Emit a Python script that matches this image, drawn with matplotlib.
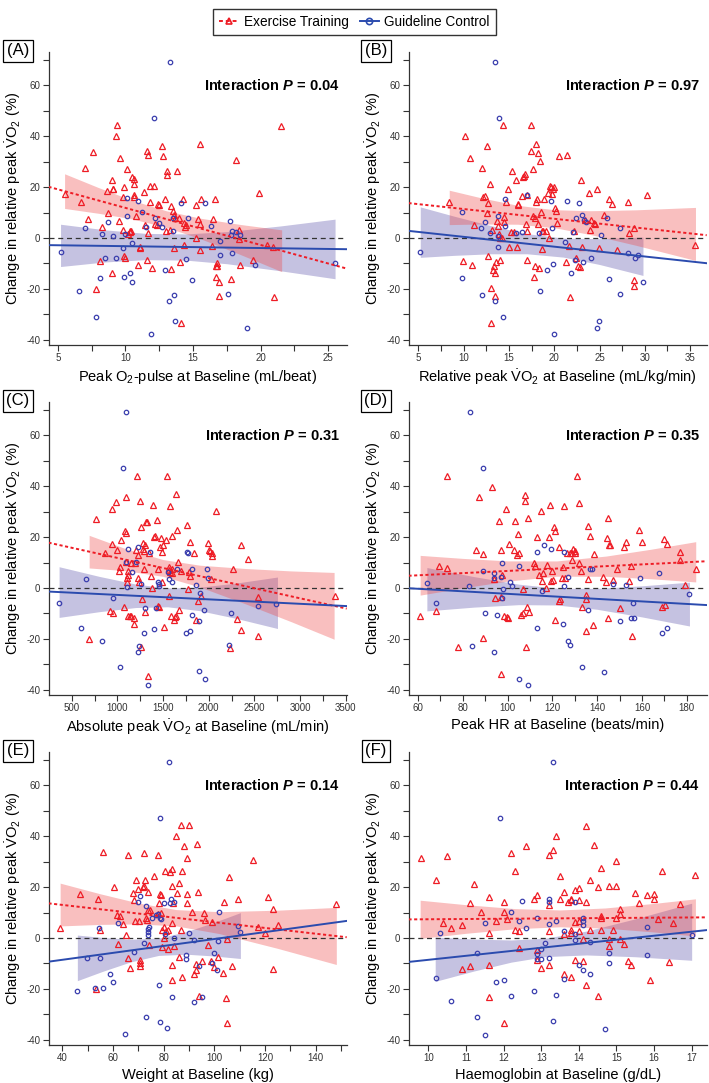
import matplotlib
matplotlib.use("Agg")
import matplotlib.pyplot as plt
from matplotlib.lines import Line2D
from matplotlib.ticker import FixedLocator, FuncFormatter

plt.rcParams['font.family'] = ['Liberation Sans', 'DejaVu Sans']
plt.rcParams['mathtext.fontset'] = 'custom'
plt.rcParams['mathtext.rm'] = 'Liberation Sans'
plt.rcParams['mathtext.it'] = 'Liberation Sans:italic'
plt.rcParams['mathtext.bf'] = 'Liberation Sans:bold'
plt.rcParams['mathtext.bfit'] = 'Liberation Sans:italic:bold'
plt.rcParams['axes.unicode_minus'] = False

# ---------------- data ----------------
# (A) peak O2-pulse
a_ex_x = [5.5, 6.7, 7.0, 7.2, 7.6, 7.8, 8.1, 8.3, 8.6, 8.7,
          9.0, 9.0, 9.1, 9.1, 9.3, 9.4, 9.5, 9.6, 9.8, 9.9,
          9.85, 9.9, 10.0, 10.1, 10.2, 10.3, 10.3, 10.4, 10.5, 10.6,
          10.6, 10.6, 10.6, 10.8, 10.9, 11.05, 11.1, 11.4, 11.45, 11.6,
          11.6, 11.7, 11.7, 11.8, 11.8, 12.0, 12.1, 12.2, 12.3, 12.4,
          12.5, 12.7, 12.8, 12.9, 13.0, 13.1, 13.1, 13.3, 13.4, 13.4,
          13.5, 13.6, 13.6, 13.7, 13.8, 13.95, 14.05, 14.1, 14.25, 14.3,
          14.35, 14.4, 14.5, 15.2, 15.2, 15.4, 15.5, 15.5, 15.5, 15.6,
          16.4, 16.5, 16.6, 16.7, 16.7, 16.8, 16.8, 16.9, 16.9, 17.8,
          18.2, 18.4, 18.4, 18.5, 19.4, 19.9, 20.45, 20.9, 21.0, 21.5]
a_ex_y = [17.4, 14.2, 27.5, 7.6, 33.6, -19.9, -8.9, 4.3, 18.5, 10.0,
          -13.9, 22.8, 19.3, 19.1, 40.0, 44.5, 6.5, 31.3, 3.2, 20.1,
          16.1, -7.1, -7.7, 27.2, 1.6, 2.8, 2.3, 2.7, 24.1, 23.0,
          21.1, 16.7, 15.9, 8.7, -10.6, -3.5, -4.1, 18.1, 5.2, -8.5,
          34.1, 1.9, 32.7, 14.2, 20.4, -11.8, 20.6, 5.4, 5.2, 13.5,
          13.0, 36.1, 32.2, 15.2, 2.8, 26.2, 24.6, 3.1, 12.7, -12.2,
          10.5, 9.1, -3.8, 7.8, 26.2, 7.9, -9.5, -33.5, 15.2, 6.0,
          -2.7, 4.5, 5.0, 13.1, -0.1, 7.4, 36.9, 5.4, -4.8, 15.2,
          -3.0, 7.4, 15.5, -10.9, -15.5, -9.8, -11.1, -17.3, -22.9, -16.2,
          30.5, 3.2, -0.2, -10.6, -8.8, 17.8, -2.9, -3.7, -23.3, 44.1]
a_gc_x = [5.2, 6.6, 7.0, 7.85, 8.1, 8.3, 8.5, 8.7, 9.1, 9.3,
          9.8, 9.9, 10.0, 10.1, 10.1, 10.3, 10.5, 10.5, 10.9, 11.25,
          11.5, 11.9, 12.1, 12.2, 12.5, 12.7, 12.9, 13.2, 13.5, 13.5,
          13.6, 13.65, 14.1, 14.5, 14.6, 14.9, 15.9, 16.3, 17.0, 17.0,
          17.6, 17.7, 17.8, 17.9, 17.9, 18.2, 18.5, 19.0, 19.6, 25.5, 13.3]
a_gc_y = [-5.5, -20.7, 3.9, -30.9, -15.7, 1.6, -7.9, 6.1, 0.7, -7.9,
          -3.8, -15.5, 1.6, 15.6, 8.7, -13.7, -2.0, -17.2, 14.4, 10.3,
          4.4, -37.7, 47.1, 7.9, 6.0, 4.3, -12.6, -24.7, 7.7, 2.7,
          -22.5, -32.7, 13.8, -8.4, 7.7, -16.5, 13.8, 4.6, -1.3, -6.6,
          -22.1, 6.6, 1.3, 2.6, -5.8, 2.2, 1.3, -35.4, -10.5, -9.7, 69.0]
a_xlim = [4.31, 26.36]
a_ex_line = [20.1, -12.0]
a_gc_line = [-2.8, -4.4]
a_ex_band_x = [5.5, 8, 10.5, 13, 15.5, 18.5, 21.55]
a_ex_band_lo = [11.6, 9.7, 7.5, 4.2, -0.2, -6.5, -13.2]
a_ex_band_hi = [25.2, 19.8, 14.8, 10.7, 7.8, 5.3, 3.2]
a_gc_band_x = [5.2, 8.5, 11.5, 14.5, 17.5, 21.5, 25.5]
a_gc_band_lo = [-11.2, -9.4, -8.5, -8.7, -10.1, -12.9, -16.0]
a_gc_band_hi = [5.4, 3.2, 1.8, 1.6, 2.5, 4.75, 7.4]

# (B) relative peak VO2
b_ex_x = [8.4, 9.9, 10.15, 10.7, 10.9, 11.1, 12.0, 12.1, 12.4, 12.55,
          12.6, 12.7, 12.7, 12.9, 13.0, 13.0, 13.1, 13.2, 13.3, 13.4,
          13.5, 13.6, 13.7, 13.8, 13.9, 14.0, 14.05, 14.2, 14.35, 14.5,
          14.5, 14.7, 14.9, 15.0, 15.2, 15.3, 15.5, 15.8, 15.9, 16.0,
          16.0, 16.4, 16.6, 16.7, 16.8, 16.85, 16.96, 17.0, 17.0, 17.4,
          17.4, 17.6, 17.7, 17.8, 17.9, 17.9, 18.0, 18.0, 18.1, 18.2,
          18.25, 18.3, 18.4, 18.5, 18.6, 18.65, 18.8, 18.9, 19.1, 19.3,
          19.4, 19.5, 19.65, 19.8, 19.9, 20.0, 20.1, 20.2, 20.3, 20.5,
          21.3, 21.4, 21.6, 21.7, 22.2, 22.4, 22.6, 22.8, 23.0, 23.1,
          23.4, 23.8, 24.0, 24.1, 24.4, 24.5, 24.7, 24.95, 25.5, 26.05,
          26.4, 26.9, 28.2, 28.3, 28.8, 28.85, 28.85, 30.3, 35.6]
b_ex_y = [14.2, -8.9, 40.0, 31.3, -10.6, 5.2, 27.6, 15.9, 16.3, 10.0,
          36.1, 13.7, -7.0, 21.3, -19.8, -33.5, 3.0, -12.5, -10.9, -13.9,
          -22.9, -9.6, 6.5, 4.8, 1.5, -8.8, 0.1, -0.1, 44.3, 6.3,
          8.3, 14.3, 19.4, -3.4, 2.2, 26.3, 2.4, 22.8, -3.7, 13.3,
          13.0, 16.5, 24.1, 24.4, 25.3, 5.6, 16.9, -8.7, 2.7, 44.2,
          34.2, 27.2, 8.7, -15.3, -10.9, 7.8, 14.2, 36.9, 15.2, 33.4,
          5.4, -11.9, 30.4, 10.3, 2.8, -4.5, 2.8, 15.2, 2.6, 17.8,
          0.1, 20.4, 20.0, 17.2, 19.4, 20.0, 11.6, 10.7, 5.9, 32.2,
          -9.3, 32.6, -3.1, -23.1, 2.7, -7.7, -10.9, -11.5, 22.8, -3.4,
          6.9, 17.8, 3.0, 7.0, 5.8, 5.5, 19.1, -3.8, 9.0, 15.5,
          13.2, -4.8, 14.3, 1.8, 4.0, -16.4, -18.7, 16.9, -2.9]
b_gc_x = [5.2, 9.8, 9.8, 11.9, 12.0, 12.4, 12.95, 13.4, 13.8, 13.8,
          13.8, 13.9, 14.3, 14.6, 14.6, 15.8, 16.4, 17.0, 18.3, 18.4,
          19.2, 19.65, 19.7, 19.9, 20.0, 21.2, 21.4, 21.8, 22.1, 22.3,
          22.4, 22.7, 23.1, 23.2, 23.3, 23.55, 24.1, 24.7, 24.9, 25.2,
          25.8, 26.1, 27.3, 27.3, 28.1, 28.9, 29.2, 29.8, 13.5]
b_gc_y = [-5.5, 10.3, -15.7, 4.0, -22.5, 6.2, 2.0, -24.7, 8.8, 0.9,
          -3.7, 47.2, -30.9, 15.5, 4.8, 1.8, 2.4, 16.8, 2.0, -20.7,
          -12.6, 14.4, 4.1, -10.4, -37.7, -1.5, 14.4, -13.7, 2.3, -8.5,
          7.9, 13.9, 9.0, -9.6, 7.0, 6.1, -7.9, -35.3, -32.7, 1.1,
          7.8, -15.9, -22.0, 4.0, -5.8, -7.9, -6.7, -17.2, 69.0]
b_xlim = [3.9, 36.84]
b_ex_line = [13.7, 1.1]
b_gc_line = [2.8, -9.9]
b_ex_band_x = [8.4, 12, 16, 20, 24, 29, 35.6]
b_ex_band_lo = [5.25, 5.5, 5.4, 4.05, 1.35, -2.85, -8.8]
b_ex_band_hi = [18.75, 15.7, 12.8, 11.1, 10.7, 11.05, 12.0]
b_gc_band_x = [5.2, 9, 13, 17, 21, 25, 29.8]
b_gc_band_lo = [-7.6, -6.8, -6.2, -6.2, -7.5, -10.4, -14.7]
b_gc_band_hi = [12.2, 8.5, 4.85, 1.7, -0.05, -0.27, 0.37]

# (C) absolute peak VO2
c_ex_x = [690, 763, 865, 920, 938, 938, 953, 989, 1000, 1015,
          1026, 1040, 1069, 1084, 1091, 1091, 1099, 1106, 1106, 1113,
          1113, 1113, 1135, 1146, 1150, 1183, 1186, 1194, 1204, 1212,
          1223, 1230, 1237, 1248, 1256, 1256, 1267, 1277, 1281, 1288,
          1296, 1303, 1303, 1310, 1325, 1332, 1347, 1369, 1383, 1387,
          1398, 1413, 1434, 1442, 1449, 1456, 1471, 1478, 1486, 1493,
          1500, 1515, 1529, 1544, 1559, 1566, 1566, 1573, 1577, 1584,
          1595, 1595, 1602, 1617, 1632, 1639, 1642, 1653, 1661, 1675,
          1697, 1756, 1767, 1778, 1792, 1799, 1836, 1865, 1880, 1916,
          1986, 1997, 2011, 2026, 2040, 2040, 2084, 2237, 2270, 2310,
          2354, 2354, 2424, 2544, 2544, 3380]
c_ex_y = [-20.1, 27.2, 13.9, -9.0, 31.1, 17.4, -9.9, 33.6, 14.9, 6.7,
          8.1, 19.0, -7.3, 22.5, 21.4, 10.1, 35.6, 2.2, 3.8, 5.1,
          6.7, -11.1, -10.8, 9.7, -10.8, -11.6, -14.2, 9.9, 15.0, 44.1,
          3.8, 12.9, 2.2, 34.2, 23.8, -23.1, -4.2, 15.2, 17.5, 14.5,
          7.6, -9.5, 16.7, 26.0, 26.0, -34.6, 13.6, 4.7, -0.1, 32.5,
          19.9, 20.4, 26.7, -7.2, 7.3, -7.3, 16.2, 19.6, 14.1, 2.5,
          17.0, -15.2, 18.8, 44.1, 6.9, 8.1, -3.1, 6.3, 32.2, -10.8,
          5.8, 20.3, 7.5, -12.5, -11.2, -10.8, 36.7, 22.7, 10.2, -8.6,
          6.5, 24.6, -0.3, 6.1, 18.2, 4.8, 13.7, -12.5, -5.0, -3.3,
          17.8, 14.9, 14.5, 3.5, 13.9, 12.5, 30.3, -23.5, 7.3, -12.0,
          -16.6, 16.7, 11.2, -3.7, -18.7, -3.1]
c_gc_x = [361, 602, 661, 836, 953, 1033, 1058, 1091, 1099, 1106,
          1113, 1164, 1201, 1226, 1237, 1230, 1259, 1288, 1303, 1332,
          1361, 1405, 1420, 1445, 1456, 1456, 1551, 1559, 1595, 1657,
          1748, 1763, 1770, 1799, 1814, 1821, 1858, 1894, 1898, 1909,
          1945, 1960, 1975, 1989, 2223, 2248, 2544, 2741]
c_gc_y = [-5.8, -15.8, 3.7, -21.0, -3.9, -31.1, 46.9, 68.9, 10.2, 0.5,
          15.3, 6.3, 10.1, 15.9, -22.6, -25.1, 1.6, -17.6, -8.0, -37.9,
          14.1, -15.9, -8.0, 2.4, 0.8, 1.4, 6.3, 3.7, 2.4, 7.3,
          -17.5, 14.0, 13.6, -16.9, 7.5, -10.7, 1.0, -12.8, -32.4, -1.8,
          -8.6, -35.8, 7.6, 3.9, -22.4, -9.9, -6.9, -6.1]
c_xlim = [245, 3510]
c_ex_line = [17.8, -8.1]
c_gc_line = [-1.4, -7.1]
c_ex_band_x = [690, 1100, 1500, 1900, 2400, 2900, 3372]
c_ex_band_lo = [7.87, 6.75, 4.55, 0.41, -6.2, -13.2, -20.1]
c_ex_band_hi = [20.67, 15.3, 11.15, 8.95, 7.65, 6.7, 6.1]
c_gc_band_x = [361, 800, 1200, 1550, 1900, 2300, 2752]
c_gc_band_lo = [-11.55, -9.3, -7.67, -7.38, -8.9, -11.93, -15.9]
c_gc_band_hi = [8.35, 4.56, 1.53, 0.02, 0.3, 1.93, 4.3]

# (D) peak HR
d_ex_x = [61.0, 68.0, 69.5, 73.1, 73.1, 78.1, 86.0, 87.4, 89.0, 89.0,
          93.0, 93.8, 94.2, 96.1, 96.9, 97.0, 97.2, 97.5, 98.4, 99.1,
          99.9, 100.4, 100.7, 102.8, 103.4, 104.3, 104.8, 105.2, 106.1, 106.7,
          107.0, 107.9, 108.0, 108.2, 108.5, 109.1, 109.8, 111.9, 112.3, 113.1,
          114.1, 115.0, 115.3, 115.9, 117.0, 117.5, 118.7, 118.9, 119.3, 119.8,
          120.4, 120.7, 121.0, 121.1, 122.9, 123.0, 123.6, 124.2, 124.8, 125.1,
          125.7, 126.6, 127.8, 128.7, 129.0, 129.4, 130.0, 130.2, 130.8, 131.7,
          132.0, 132.9, 133.2, 134.9, 134.9, 135.2, 135.8, 136.1, 137.0, 138.2,
          138.8, 142.7, 143.9, 144.2, 144.8, 144.8, 145.4, 145.8, 147.0, 148.9,
          150.3, 152.2, 152.9, 154.0, 155.2, 155.5, 158.9, 159.9, 168.8, 170.0,
          170.3, 171.2, 177.0, 177.2, 179.3, 184.0]
d_ex_y = [-10.8, -8.9, 8.6, 7.7, 43.9, -23.1, 14.9, 35.8, 13.3, -19.7,
          39.7, 3.4, -4.1, 26.1, -33.9, 14.9, -3.4, 5.0, -11.0, 31.1,
          -11.5, -11.9, 17.1, 14.9, 26.1, 12.9, 21.2, 13.9, -10.7, -0.3,
          -9.9, 36.6, 34.2, -23.3, -7.3, 27.3, -9.3, 9.7, 8.5, 20.1,
          5.0, 30.1, 2.7, 5.9, 0.0, 9.0, 19.9, 32.5, 2.9, 6.7,
          3.1, 24.1, 22.5, -12.4, 15.9, -5.0, -4.3, 4.1, 8.4, 32.3,
          3.8, 13.9, 13.9, 13.7, 11.0, 15.3, 14.6, 13.6, 44.1, 33.5,
          9.8, 6.5, -7.3, -2.9, -4.2, -16.7, 3.7, 24.4, 20.4, -14.6,
          13.5, 4.4, 2.5, 19.7, -11.9, 27.3, 16.9, 16.9, 3.1, 7.3,
          -8.0, 15.9, 17.9, 2.7, 8.5, -18.8, 22.7, 17.9, -7.3, 19.1,
          -6.7, 17.3, 14.0, 11.0, 1.2, 7.6]
d_gc_x = [64.0, 68.0, 82.9, 84.1, 89.1, 90.0, 93.9, 93.9, 94.1, 95.1,
          97.0, 97.6, 98.1, 100.9, 101.9, 104.9, 104.9, 109.2, 113.1, 113.1,
          115.2, 116.4, 119.2, 124.8, 125.1, 125.4, 126.9, 127.2, 128.1, 133.2,
          136.1, 137.0, 137.9, 143.0, 147.1, 150.1, 153.1, 155.2, 156.1, 156.4,
          159.2, 167.8, 169.1, 171.4, 181.2, 83.2, 89.1, 97.6]
d_gc_y = [2.0, -5.8, 0.9, -22.7, 6.8, -9.9, 5.9, 3.8, -25.1, -10.7,
          4.2, 9.9, -0.3, 2.2, 0.8, 8.5, -35.8, -37.9, 14.2, -15.8,
          -1.3, 16.7, 15.4, -14.1, 0.7, 14.2, -21.0, 4.2, -22.4, -31.2,
          -8.5, 7.6, 7.6, -32.8, 1.6, -12.8, 1.0, -11.6, -6.0, -11.6,
          4.1, 5.9, -17.5, -15.8, -2.4, 68.9, 46.9, -3.9]
d_xlim = [55.8, 188.9]
d_ex_line = [4.8, 10.5]
d_gc_line = [-0.1, -6.7]
d_ex_band_x = [61, 80, 100, 122, 144, 164, 184]
d_ex_band_lo = [-2.8, 0.02, 2.7, 4.62, 4.59, 3.63, 2.38]
d_ex_band_hi = [12.8, 11.62, 10.64, 10.62, 12.53, 15.21, 18.18]
d_gc_band_x = [64, 85, 105, 122, 140, 160, 181.2]
d_gc_band_lo = [-8.98, -7.51, -6.54, -6.67, -8.36, -11.35, -14.91]
d_gc_band_hi = [8.02, 4.47, 1.5, -0.07, -0.16, 0.85, 2.29]

# (E) weight
e_ex_x = [39.1, 47.0, 53.1, 54.0, 54.9, 56.0, 60.2, 61.5, 61.9, 62.8,
          64.1, 65.2, 66.0, 66.0, 66.8, 67.8, 68.1, 68.6, 68.9, 69.9,
          70.2, 70.5, 70.5, 70.7, 71.8, 72.1, 72.3, 72.8, 73.0, 73.4,
          73.8, 73.9, 74.2, 74.7, 76.0, 77.9, 77.9, 78.1, 78.5, 78.9,
          79.1, 79.4, 79.4, 80.0, 80.2, 80.5, 81.0, 81.6, 81.8, 82.3,
          83.1, 83.1, 83.1, 83.1, 83.1, 83.8, 84.2, 85.0, 85.3, 86.0,
          86.0, 86.7, 86.8, 87.1, 87.4, 88.0, 89.1, 89.2, 89.1, 90.0,
          91.3, 91.8, 92.6, 92.6, 93.2, 93.6, 94.0, 95.3, 95.8, 96.3,
          97.7, 98.7, 99.0, 100.0, 101.6, 103.5, 104.0, 104.5, 105.0, 105.2,
          105.8, 106.9, 109.5, 115.3, 117.2, 120.1, 121.1, 123.2, 123.2, 125.1,
          148.2]
e_ex_y = [3.9, 17.4, -20.0, 15.3, 3.1, 33.6, 19.9, 9.2, -2.5, 8.6,
          5.4, 1.3, -8.0, 32.7, -11.6, 17.8, 15.0, 6.5, 22.7, 19.1,
          6.8, -8.6, -11.0, -9.9, 20.0, 33.5, 20.4, 22.7, 7.8, 7.1,
          10.8, 18.0, -2.9, 11.0, 24.4, 32.4, 9.4, 13.9, 17.1, 16.7,
          9.9, 3.1, -3.4, 0.0, 4.4, 26.1, 2.7, -4.4, 3.1, 26.0,
          6.0, -10.7, -16.3, 20.5, 27.2, 13.9, -3.0, 40.1, 17.6, -7.3,
          21.4, 44.4, 3.3, -15.2, 26.3, 36.2, 17.1, 13.9, 31.4, 44.2,
          10.3, -14.1, -10.1, -12.5, 36.7, 18.0, -22.7, -8.9, 9.9, 7.1,
          -2.9, -8.9, 6.3, -11.2, -7.5, -13.9, 14.0, -23.5, -0.5, -33.5,
          24.1, -10.8, 15.2, 30.5, 4.2, 1.8, 15.9, 11.2, -12.3, 5.0,
          13.5]
e_gc_x = [45.9, 49.9, 52.8, 54.6, 54.9, 56.0, 58.9, 59.9, 62.0, 64.9,
          68.1, 69.9, 70.7, 72.1, 73.0, 73.1, 73.9, 73.9, 73.9, 74.2,
          75.2, 77.1, 77.9, 78.1, 78.4, 78.4, 78.7, 79.1, 80.0, 80.6,
          81.3, 82.6, 82.9, 83.1, 83.9, 84.2, 88.9, 88.9, 90.0, 92.1,
          92.1, 94.0, 95.0, 99.0, 99.8, 101.1, 101.3, 101.9, 109.3, 110.3,
          82.1]
e_gc_y = [-21.0, -8.0, -19.6, 3.8, -8.0, -19.6, -14.1, -17.4, 6.0, -37.8,
          -5.5, 14.2, 16.6, -1.8, -31.1, 12.7, 3.4, 2.2, 1.0, 4.4,
          7.8, 8.9, 9.5, -18.6, -32.8, 47.2, 7.8, 7.5, 13.9, 1.7,
          -35.4, 13.9, 15.3, -23.0, 14.1, -0.1, -6.5, -8.4, 2.0, -0.8,
          -25.0, -10.8, -23.0, -9.7, -6.0, -12.4, -1.3, 10.1, 4.7, 2.5,
          68.9]
e_xlim = [34.5, 152.3]
e_ex_line = [13.6, 0.3]
e_gc_line = [-9.3, 6.7]
e_ex_band_x = [39.1, 55, 70, 85, 102, 125, 148.2]
e_ex_band_lo = [4.73, 5.33, 5.54, 4.74, 1.72, -4.07, -10.4]
e_ex_band_hi = [21.53, 17.33, 13.72, 11.14, 10.32, 10.91, 12.0]
e_gc_band_x = [45.9, 56, 67, 78, 89, 100, 110.3]
e_gc_band_lo = [-16.75, -13.05, -9.36, -6.84, -6.37, -7.07, -8.05]
e_gc_band_hi = [1.15, 0.19, -0.5, -0.04, 2.49, 6.17, 9.95]

# (F) haemoglobin
f_ex_x = [9.8, 10.2, 10.4, 10.5, 10.6, 10.9, 10.9, 11.1, 11.1, 11.2,
          11.4, 11.6, 11.6, 11.6, 11.6, 11.8, 12.0, 12.0, 12.0, 12.1,
          12.2, 12.3, 12.3, 12.4, 12.4, 12.6, 12.8, 12.9, 12.9, 12.9,
          13.0, 13.2, 13.2, 13.2, 13.2, 13.3, 13.4, 13.5, 13.5, 13.6,
          13.6, 13.6, 13.7, 13.8, 13.8, 13.8, 13.8, 13.8, 13.9, 13.9,
          13.9, 14.0, 14.0, 14.0, 14.0, 14.1, 14.1, 14.2, 14.2, 14.2,
          14.3, 14.3, 14.4, 14.5, 14.5, 14.6, 14.6, 14.6, 14.6, 14.8,
          14.8, 14.8, 14.9, 15.0, 15.0, 15.0, 15.1, 15.1, 15.1, 15.2,
          15.3, 15.4, 15.5, 15.6, 15.8, 15.9, 16.0, 16.0, 16.1, 16.4,
          16.5, 16.7, 17.1, 16.2]
f_ex_y = [31.2, 22.7, 5.9, 32.3, 3.9, 5.1, -12.0, 13.6, -11.1, 21.3,
          10.3, 16.1, 2.1, -10.7, -23.3, 6.5, 14.0, -33.5, 10.1, 7.6,
          33.5, 26.1, 3.0, 2.9, -3.8, 36.1, 15.3, -4.6, -8.5, 16.7,
          -11.8, 32.7, 13.1, 2.9, -10.6, 34.4, 40.0, 24.3, 15.2, 18.2,
          -14.2, 1.4, 14.2, 14.8, 3.1, -15.2, 15.2, 1.8, 6.4, -8.6,
          18.8, 19.6, 2.9, 6.5, 14.9, -0.3, -8.9, 14.1, -18.6, 44.1,
          3.3, 22.7, 36.5, 19.9, -22.9, 27.5, 7.8, 8.6, 3.0, -0.3,
          -3.0, 20.5, 3.1, 30.2, 20.5, 7.8, 9.4, 11.2, -0.3, -2.5,
          -8.9, -10.7, 17.6, 13.9, 16.9, -16.6, 17.4, 15.2, 7.3, -9.5,
          5.8, 13.3, 24.6, 26.1]
f_gc_x = [10.2, 10.3, 10.6, 11.3, 11.3, 11.5, 11.5, 11.8, 11.9, 12.0,
          12.2, 12.2, 12.4, 12.5, 12.6, 12.8, 12.9, 12.9, 12.9, 13.0,
          13.0, 13.1, 13.2, 13.2, 13.2, 13.2, 13.3, 13.4, 13.4, 13.6,
          13.6, 13.9, 13.9, 13.9, 14.0, 14.1, 14.1, 14.1, 14.1, 14.3,
          14.3, 14.7, 14.8, 14.8, 15.8, 15.8, 17.0, 13.3]
f_gc_y = [-15.7, 2.0, -24.8, -5.8, -31.1, -37.9, 6.0, -17.4, 47.2, -16.6,
          -22.6, 10.2, 6.8, 14.5, 3.8, -21.0, 7.8, -6.3, -8.1, -8.1,
          -4.4, -2.1, 15.4, 14.2, 5.4, -8.0, -32.7, 6.5, -22.4, -16.2,
          2.6, -0.8, 1.4, 14.1, -10.5, 7.7, 5.0, -12.5, 6.7, -1.4,
          -14.0, -35.6, -5.8, -9.8, -6.7, 4.2, 1.0, 68.9]
f_xlim = [9.47, 17.4]
f_ex_line = [7.3, 8.1]
f_gc_line = [-9.4, 3.1]
f_ex_band_x = [9.78, 11, 12.3, 13.5, 14.7, 16, 17.1]
f_ex_band_lo = [-0.17, 1.84, 3.63, 4.4, 3.88, 2.35, 0.77]
f_ex_band_hi = [14.83, 13.06, 11.53, 11.0, 11.78, 13.57, 15.37]
f_gc_band_x = [10.18, 11.2, 12.2, 13.1, 14.2, 15.5, 17.0]
f_gc_band_lo = [-17.03, -13.0, -9.48, -7.31, -6.65, -7.36, -8.75]
f_gc_band_hi = [0.37, -0.42, -0.78, -0.11, 2.71, 7.52, 13.65]

panel_tags = ['(A)', '(B)', '(C)', '(D)', '(E)', '(F)']
p_values = ['0.04', '0.97', '0.31', '0.35', '0.14', '0.44']
VO2 = r'$\dot{\mathrm{V}}\mathrm{O}_2$'
x_labels = [r'Peak O$_2$-pulse at Baseline (mL/beat)',
            'Relative peak ' + VO2 + ' at Baseline (mL/kg/min)',
            'Absolute peak ' + VO2 + ' at Baseline (mL/min)',
            'Peak HR at Baseline (beats/min)',
            'Weight at Baseline (kg)',
            'Haemoglobin at Baseline (g/dL)']
y_label = 'Change in relative peak ' + VO2 + ' (%)'
# tick start, stop, step, label step
x_ticks = [(5, 25, 2.5, 5), (5, 35, 2.5, 5), (500, 3500, 250, 500),
           (60, 180, 10, 20), (40, 150, 10, 20), (10, 17, 1, 1)]

panels = [
    dict(ex=(a_ex_x, a_ex_y), gc=(a_gc_x, a_gc_y), xlim=a_xlim, exl=a_ex_line, gcl=a_gc_line,
         exb=(a_ex_band_x, a_ex_band_lo, a_ex_band_hi), gcb=(a_gc_band_x, a_gc_band_lo, a_gc_band_hi)),
    dict(ex=(b_ex_x, b_ex_y), gc=(b_gc_x, b_gc_y), xlim=b_xlim, exl=b_ex_line, gcl=b_gc_line,
         exb=(b_ex_band_x, b_ex_band_lo, b_ex_band_hi), gcb=(b_gc_band_x, b_gc_band_lo, b_gc_band_hi)),
    dict(ex=(c_ex_x, c_ex_y), gc=(c_gc_x, c_gc_y), xlim=c_xlim, exl=c_ex_line, gcl=c_gc_line,
         exb=(c_ex_band_x, c_ex_band_lo, c_ex_band_hi), gcb=(c_gc_band_x, c_gc_band_lo, c_gc_band_hi)),
    dict(ex=(d_ex_x, d_ex_y), gc=(d_gc_x, d_gc_y), xlim=d_xlim, exl=d_ex_line, gcl=d_gc_line,
         exb=(d_ex_band_x, d_ex_band_lo, d_ex_band_hi), gcb=(d_gc_band_x, d_gc_band_lo, d_gc_band_hi)),
    dict(ex=(e_ex_x, e_ex_y), gc=(e_gc_x, e_gc_y), xlim=e_xlim, exl=e_ex_line, gcl=e_gc_line,
         exb=(e_ex_band_x, e_ex_band_lo, e_ex_band_hi), gcb=(e_gc_band_x, e_gc_band_lo, e_gc_band_hi)),
    dict(ex=(f_ex_x, f_ex_y), gc=(f_gc_x, f_gc_y), xlim=f_xlim, exl=f_ex_line, gcl=f_gc_line,
         exb=(f_ex_band_x, f_ex_band_lo, f_ex_band_hi), gcb=(f_gc_band_x, f_gc_band_lo, f_gc_band_hi)),
]

RED = '#EE1C25'
BLUE_PT = '#3B3FAE'
BLUE_LN = '#2B4BAE'
RED_BAND = '#F04848'
BLUE_BAND = '#5A50AA'
DOTTED = (0, (1.6, 1.3))

fig = plt.figure(figsize=(7.09, 10.83), dpi=100)

lefts = [48.5 / 709, 408.5 / 709]
bottoms = [1 - 345 / 1083, 1 - 695 / 1083, 1 - 1045 / 1083]
w = 298.2 / 709
h = 293 / 1083
tag_x = [18 / 709, 376 / 709]


def make_fmt(step):
    def fmt(v, pos):
        if abs(v / step - round(v / step)) < 1e-6:
            return f'{v:g}'
        return ''
    return fmt


for i, p in enumerate(panels):
    row, col = divmod(i, 2)
    ax = fig.add_axes([lefts[col], bottoms[row], w, h])

    ax.fill_between(p['gcb'][0], p['gcb'][1], p['gcb'][2], color=BLUE_BAND, alpha=0.35, lw=0, zorder=1)
    ax.fill_between(p['exb'][0], p['exb'][1], p['exb'][2], color=RED_BAND, alpha=0.35, lw=0, zorder=1)
    ax.axhline(0, color='#333333', ls=(0, (4, 3)), lw=0.9, zorder=2)
    ax.plot(p['ex'][0], p['ex'][1], ls='none', marker='^', ms=3.9, mfc='none', mec=RED, mew=0.9, zorder=3)
    ax.plot(p['gc'][0], p['gc'][1], ls='none', marker='o', ms=3.2, mfc='none', mec=BLUE_PT, mew=0.9, zorder=3)
    ax.plot(p['xlim'], p['exl'], color=RED, ls=DOTTED, lw=1.4, zorder=4)
    ax.plot(p['xlim'], p['gcl'], color=BLUE_LN, lw=1.4, zorder=4)

    ax.set_xlim(p['xlim'])
    ax.set_ylim(-42, 73)

    t0, t1, st, lst = x_ticks[i]
    xt = []
    v = t0
    while v <= t1 + 1e-9:
        xt.append(v)
        v += st
    ax.xaxis.set_major_locator(FixedLocator(xt))
    ax.xaxis.set_major_formatter(FuncFormatter(make_fmt(lst)))
    ax.yaxis.set_major_locator(FixedLocator(list(range(-40, 71, 10))))
    ax.yaxis.set_major_formatter(FuncFormatter(make_fmt(20)))

    for s in ['top', 'right']:
        ax.spines[s].set_visible(False)
    for s in ['left', 'bottom']:
        ax.spines[s].set_linewidth(0.9)
        ax.spines[s].set_color('#333333')
    ax.tick_params(direction='out', length=4, width=0.8, color='#333333',
                   labelsize=7, pad=2, labelcolor='#333333')

    ax.set_xlabel(x_labels[i], fontsize=10.5, labelpad=3)
    ax.set_ylabel(y_label, fontsize=10.5, labelpad=2)

    ax.text(0.9775, 60, r'Interaction $\mathbfit{P}$ = ' + p_values[i],
            transform=ax.get_yaxis_transform(), ha='right', va='center',
            fontsize=10.5, fontweight='bold')

    top_px = 1083 * (1 - bottoms[row] - h)
    fig.text(tag_x[col], 1 - (top_px - 1) / 1083, panel_tags[i], ha='center', va='center',
             fontsize=12, bbox=dict(boxstyle='square,pad=0.2', fc='white', ec='black', lw=0.9))

handles = [Line2D([], [], color=RED, ls=(0, (2, 1.5)), lw=1.4, marker='^', ms=5, mfc='none', mec=RED, mew=1.2),
           Line2D([], [], color=BLUE_LN, lw=1.4, marker='o', ms=4.5, mfc='none', mec=BLUE_LN, mew=1.2)]
fig.legend(handles, ['Exercise Training', 'Guideline Control'], loc='upper center',
           bbox_to_anchor=(0.5, 0.998), ncol=2, frameon=True, fancybox=False,
           edgecolor='black', fontsize=9.8, handlelength=1.4, columnspacing=0.8,
           handletextpad=0.4, borderpad=0.45)

fig.savefig('out.png', dpi=100)
